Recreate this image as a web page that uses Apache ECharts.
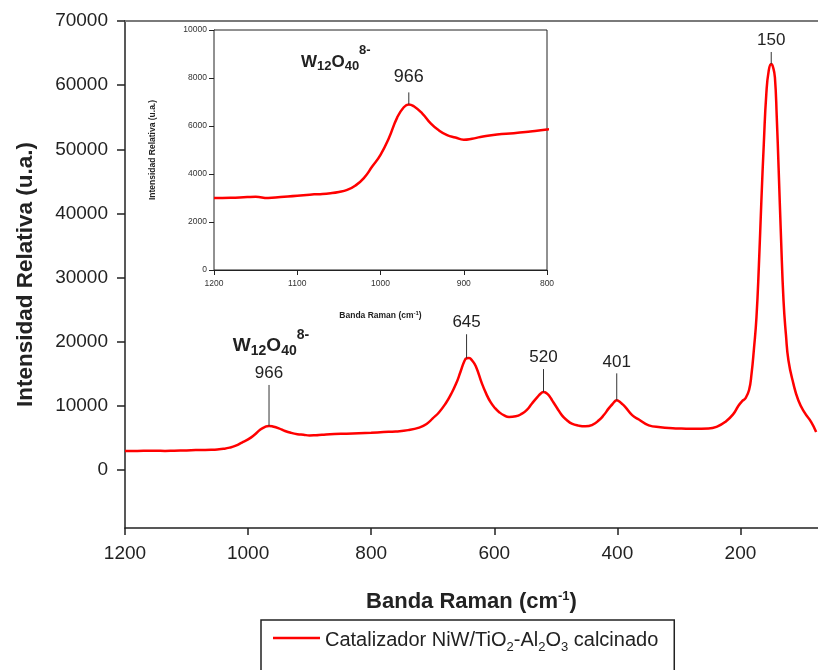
<!DOCTYPE html>
<html>
<head>
<meta charset="utf-8">
<title>Espectro Raman NiW/TiO2-Al2O3</title>
<script src="https://cdn.jsdelivr.net/npm/echarts@6/dist/echarts.min.js"></script>
<style>
  html, body { margin: 0; padding: 0; background: #fff; }
  #chart { width: 818px; height: 670px; }
</style>
</head>
<body>
<div id="chart"></div>
<script>
// Raman shift (cm-1), high to low
const wavenumber = [
  1200, 1180, 1160, 1150, 1135, 1120, 1100, 1085, 1075, 1060, 1050, 1040, 1030, 1020, 1010,
  1000, 990, 980, 972, 966, 960, 950, 940, 930, 920, 910, 900, 890, 880, 860, 840, 820, 800,
  780, 760, 740, 722, 710, 700, 690, 679, 670, 662, 655, 649, 645, 641, 636, 630, 620, 613, 606,
  599, 592, 584, 576, 565, 555, 547, 539, 530, 524, 520, 515, 510, 506, 498, 490, 482, 474, 463, 452, 440,
  430, 422, 414, 408, 404, 401, 398, 393, 387, 376, 365, 349, 330, 310, 296, 275, 252, 238, 225, 212,
  203, 197, 192, 186, 182, 178, 174, 170, 166, 162, 158, 154, 150, 147, 144, 141, 138, 134,
  130, 126, 122, 114, 106, 96, 85, 77
];
// Relative intensity (u.a.)
const intensity = [
  3000, 3010, 3040, 3050, 3000, 3040, 3090, 3140, 3160, 3200, 3250, 3340, 3520, 3830, 4310,
  4800, 5490, 6350, 6780, 6900, 6820, 6530, 6120, 5820, 5620, 5520, 5430, 5470, 5540, 5650, 5700, 5770, 5850,
  5950, 6050, 6250, 6650, 7200, 8080, 9000, 10400, 11900, 13500, 15300, 16900, 17450, 17500, 17100, 16200, 13500, 11900, 10600,
  9700, 9050, 8550, 8300, 8400, 8810, 9400, 10370, 11400, 12000, 12180, 12000, 11500, 10890, 9700, 8550, 7800, 7260, 6950, 6840, 7100,
  7780, 8600, 9640, 10300, 10750, 10890, 10800, 10400, 9840, 8600, 7900, 7000, 6700, 6550, 6500, 6450, 6500, 6800, 7500, 8700,
  10100, 10800, 11200, 12500, 15000, 19000, 23800, 32000, 42000, 51000, 58600, 62300, 63300, 62800, 61200, 55000, 47100, 36000,
  26400, 21000, 17100, 13500, 10900, 9000, 7500, 5960
];
// Labelled bands
const peakWn = [966, 645, 520, 401, 150];
const peakVal = [6900, 17450, 12180, 10890, 63300];
// Axis tick values
const mainXTicks = [1200, 1000, 800, 600, 400, 200];
const mainYTicks = [0, 10000, 20000, 30000, 40000, 50000, 60000, 70000];

const seriesName = 'Catalizador NiW/TiO2-Al2O3 calcinado';
const FONT = '"Liberation Sans", Arial, Helvetica, sans-serif';
const INK = '#222';
const RED = '#ff0000';

const spectrum = wavenumber.map((w, i) => [w, intensity[i]]);
const plain = (v) => String(v);

// leader line length (px) above each labelled band
const leaderLen = { 966: 41, 645: 24, 520: 23, 401: 27, 150: 12 };

const ionRich = (big, small) => ({
  w: { fontSize: big, fontWeight: 'bold', fontFamily: FONT, fill: INK, color: INK, verticalAlign: 'bottom', lineHeight: big + 4 },
  sb: { fontSize: small, fontWeight: 'bold', fontFamily: FONT, fill: INK, color: INK, verticalAlign: 'bottom', lineHeight: big + 4, padding: [0, 0, -3, 0] },
  sp: { fontSize: small, fontWeight: 'bold', fontFamily: FONT, fill: INK, color: INK, verticalAlign: 'bottom', lineHeight: big + 4, padding: [0, 0, 13, 0] }
});
const ionText = '{w|W}{sb|12}{w|O}{sb|40}{sp|8-}';

const chart = echarts.init(document.getElementById('chart'), null, { renderer: 'canvas' });

const option = {
  backgroundColor: '#fff',
  animation: false,
  grid: [
    { left: 125, top: 21, right: -2, bottom: 142 },
    { left: 214, top: 30, width: 333, height: 240, show: true, backgroundColor: '#fff', borderColor: INK, borderWidth: 1, z: 5 }
  ],
  legend: {
    data: [{ name: seriesName, icon: 'rect' }],
    left: 261, top: 620,
    padding: [10, 16, 40, 12],
    borderColor: INK, borderWidth: 1.5,
    itemWidth: 47, itemHeight: 2.5,
    itemGap: 10,
    textStyle: {
      fontSize: 20, fontFamily: FONT, color: INK,
      rich: {
        t: { fontSize: 20, fontFamily: FONT, color: INK, verticalAlign: 'bottom', lineHeight: 24 },
        s: { fontSize: 13, fontFamily: FONT, color: INK, verticalAlign: 'bottom', lineHeight: 24, padding: [0, 0, -4, 0] }
      }
    },
    formatter: () => '{t|Catalizador NiW/TiO}{s|2}{t|-Al}{s|2}{t|O}{s|3}{t| calcinado}'
  },
  xAxis: [
    {
      type: 'value', gridIndex: 0, inverse: true, min: 74, max: 1200,
      name: 'Banda Raman (cm{sup|-1})', nameLocation: 'middle', nameGap: 62,
      nameTextStyle: {
        fontSize: 22, fontWeight: 'bold', fontFamily: FONT, color: INK,
        rich: { sup: { fontSize: 13, fontWeight: 'bold', fontFamily: FONT, color: INK, padding: [0, 0, 11, 0] } }
      },
      axisLine: { show: true, onZero: false, lineStyle: { color: INK, width: 1.5 } },
      axisTick: { show: true, length: 7, customValues: mainXTicks, lineStyle: { color: INK, width: 1.5 } },
      axisLabel: { customValues: mainXTicks, margin: 16, fontSize: 19, fontFamily: FONT, color: INK, formatter: plain },
      splitLine: { show: false }
    },
    {
      type: 'value', gridIndex: 0, position: 'top', inverse: true, min: 74, max: 1200,
      axisLine: { show: true, onZero: false, lineStyle: { color: '#7a7a7a', width: 2 } },
      axisTick: { show: false }, axisLabel: { show: false }, splitLine: { show: false }
    },
    {
      type: 'value', gridIndex: 1, inverse: true, min: 800, max: 1200, interval: 100,
      name: 'Banda Raman (cm{sup|-1})', nameLocation: 'middle', nameGap: 40,
      nameTextStyle: {
        fontSize: 8.5, fontWeight: 'bold', fontFamily: FONT, color: INK,
        rich: { sup: { fontSize: 6, fontWeight: 'bold', fontFamily: FONT, color: INK, padding: [0, 0, 5, 0] } }
      },
      axisLine: { show: true, onZero: false, lineStyle: { color: INK, width: 1 } },
      axisTick: { show: true, length: 5, lineStyle: { color: INK } },
      axisLabel: { margin: 9, fontSize: 8.5, fontFamily: FONT, color: '#333', formatter: plain },
      splitLine: { show: false }
    }
  ],
  yAxis: [
    {
      type: 'value', gridIndex: 0, min: -9000, max: 70000,
      name: 'Intensidad Relativa (u.a.)', nameLocation: 'middle', nameGap: 88,
      nameTextStyle: { fontSize: 22.5, fontWeight: 'bold', fontFamily: FONT, color: INK },
      axisLine: { show: true, onZero: false, lineStyle: { color: INK, width: 1.5 } },
      axisTick: { show: true, length: 8, customValues: mainYTicks, lineStyle: { color: INK, width: 1.5 } },
      axisLabel: { customValues: mainYTicks, margin: 17, fontSize: 19, fontFamily: FONT, color: INK, formatter: plain },
      splitLine: { show: false }
    },
    {
      type: 'value', gridIndex: 1, min: 0, max: 10000, interval: 2000,
      name: 'Intensidad Relativa (u.a.)', nameLocation: 'middle', nameGap: 57,
      nameTextStyle: { fontSize: 8.5, fontWeight: 'bold', fontFamily: FONT, color: INK },
      axisLine: { show: true, onZero: false, lineStyle: { color: INK, width: 1 } },
      axisTick: { show: true, length: 5, lineStyle: { color: INK } },
      axisLabel: { margin: 7, fontSize: 8.5, fontFamily: FONT, color: '#333', formatter: plain },
      splitLine: { show: false }
    }
  ],
  series: [
    {
      name: seriesName, type: 'line', xAxisIndex: 0, yAxisIndex: 0,
      data: spectrum, showSymbol: false, symbol: 'none', smooth: 0.5,
      lineStyle: { color: RED, width: 2.5 }, itemStyle: { color: RED }, z: 3
    },
    {
      name: 'inset', type: 'line', xAxisIndex: 2, yAxisIndex: 1,
      data: spectrum, showSymbol: false, symbol: 'none', smooth: 0.5, clip: true,
      lineStyle: { color: RED, width: 2.5 }, itemStyle: { color: RED }, z: 6
    },
    {
      name: 'bandas', type: 'custom', xAxisIndex: 0, yAxisIndex: 0, z: 4,
      data: peakWn.map((w, i) => [w, peakVal[i]]),
      renderItem: (params, api) => {
        const wn = api.value(0);
        const p = api.coord([wn, api.value(1)]);
        const len = leaderLen[wn];
        const top = p[1] - len;
        const children = [
          { type: 'line', shape: { x1: p[0], y1: p[1], x2: p[0], y2: top }, style: { stroke: '#333', lineWidth: 1 } },
          { type: 'text', style: { text: String(wn), x: p[0], y: top - 3, align: 'center', verticalAlign: 'bottom', fontSize: 17, fontFamily: FONT, fill: INK } }
        ];
        if (wn === 966) {
          children.push({ type: 'text', style: { text: ionText, rich: ionRich(19, 14), x: p[0] + 2, y: top - 30, align: 'center', verticalAlign: 'bottom' } });
        }
        return { type: 'group', children };
      }
    },
    {
      name: 'banda inset', type: 'custom', xAxisIndex: 2, yAxisIndex: 1, z: 7,
      data: [[peakWn[0], peakVal[0]]],
      renderItem: (params, api) => {
        const wn = api.value(0);
        const p = api.coord([wn, api.value(1)]);
        const top = p[1] - 12;
        return {
          type: 'group', children: [
            { type: 'line', shape: { x1: p[0], y1: p[1], x2: p[0], y2: top }, style: { stroke: '#333', lineWidth: 1 } },
            { type: 'text', style: { text: String(wn), x: p[0], y: top - 6, align: 'center', verticalAlign: 'bottom', fontSize: 18, fontFamily: FONT, fill: INK } },
            { type: 'text', style: { text: ionText, rich: ionRich(17, 13), x: p[0] - 73, y: top - 22, align: 'center', verticalAlign: 'bottom' } }
          ]
        };
      }
    }
  ]
};

chart.setOption(option);
</script>
</body>
</html>
